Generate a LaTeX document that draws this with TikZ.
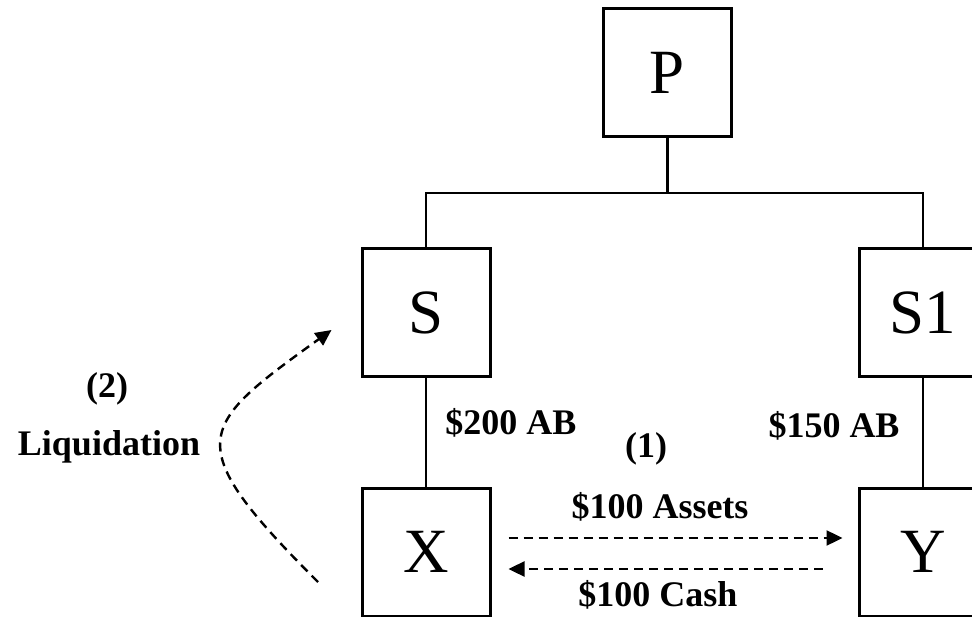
\documentclass[tikz,border=0pt]{standalone}
\usepackage{fontspec}
\setmainfont{Liberation Serif}
\usetikzlibrary{arrows.meta,positioning}
\tikzset{box/.style={draw,line width=3pt,minimum size=128pt,inner sep=0pt,font=\fontsize{63}{70}\selectfont},lbl/.style={anchor=base,font=\fontsize{36}{42}\selectfont\bfseries},line/.style={line width=2.6pt},flow/.style={line width=2.4pt,dash pattern=on 9pt off 6pt,-{Triangle[length=16pt,width=15pt]}}}
\begin{document}
\begin{tikzpicture}[x=1pt,y=-1pt]
\useasboundingbox(0,0)rectangle(972,617);
\node[box](P)at(667.5,72.5){P};
\node[box](S)at(426,313){S};
\node[box](S1)at(923,313){S1};
\node[box](X)at(426,552){X};
\node[box](Y)at(923,552){Y};
\coordinate(bus)at(667.5,193);
\coordinate(liq)at(318,582);
\draw[line](P.south)--(bus);
\draw[line](S.north)|-(bus)-|(S1.north);
\foreach\a/\b in{S/X,S1/Y}\draw[line](\a)--(\b);
\draw[flow]([shift={(17,-14)}]X.east)--([shift={(-15,-14)}]Y.west);
\draw[flow]([shift={(-35,17)}]Y.west)--([shift={(17,17)}]X.east);
\draw[flow](liq).. controls (178,442) and (197,427) .. ([shift={(-29,17)}]S.west);
\node[lbl](ab1)at(511,435){\$200 AB};
\node[lbl](ab2)at(834,437){\$150 AB};
\node[lbl](one)at(646,457){(1)};
\node[lbl](assets)at(660,518){\$100 Assets};
\node[lbl](cash)at(658,606){\$100 Cash};
\node[lbl](two)at(107,398){(2)};
\node[lbl](liquid)at(109,455){Liquidation};
\end{tikzpicture}
\end{document}
